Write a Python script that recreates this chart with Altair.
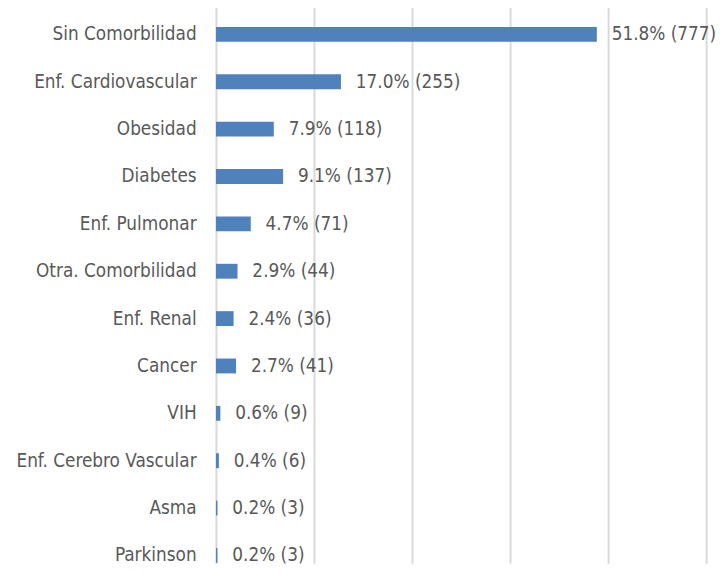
import altair as alt
import pandas as pd

categories = ["Sin Comorbilidad", "Enf. Cardiovascular", "Obesidad", "Diabetes",
              "Enf. Pulmonar", "Otra. Comorbilidad", "Enf. Renal", "Cancer", "VIH",
              "Enf. Cerebro Vascular", "Asma", "Parkinson"]
counts = [777, 255, 118, 137, 71, 44, 36, 41, 9, 6, 3, 3]
percents = ["51.8%", "17.0%", "7.9%", "9.1%", "4.7%", "2.9%", "2.4%", "2.7%",
            "0.6%", "0.4%", "0.2%", "0.2%"]

df = pd.DataFrame({"cat": categories, "n": counts, "pct": percents})
df["label"] = df["pct"] + " (" + df["n"].astype(str) + ")"

FONT = "DejaVu Sans Condensed, Liberation Sans Narrow, sans-serif"

y_enc = alt.Y("cat:N", sort=categories, title=None,
              scale=alt.Scale(paddingInner=0, paddingOuter=0, range=[0, 574]),
              axis=alt.Axis(ticks=False, domain=False, labelPadding=20,
                            labelFont=FONT, labelFontSize=19, labelColor="#595959",
                            labelLimit=300))
x_enc = alt.X("n:Q", title=None,
              scale=alt.Scale(domain=[0, 1000], nice=False),
              axis=alt.Axis(values=[0, 200, 400, 600, 800, 1000], labels=False,
                            ticks=False, domain=False, grid=True,
                            gridColor="#d9d9d9", gridWidth=2))

bars = alt.Chart(df).mark_bar(size=15, color="#4f81bd").encode(x=x_enc, y=y_enc)
text = alt.Chart(df).mark_text(align="left", baseline="middle", dx=15, dy=0,
                               font=FONT, fontSize=19, color="#595959").encode(
    x="n:Q", y=alt.Y("cat:N", sort=categories), text="label:N")

chart = (bars + text).properties(
    width=495, height=558,
    autosize=alt.AutoSizeParams(type="none"),
    padding={"left": 210, "top": 0, "right": 12, "bottom": 0},
).configure_view(stroke=None)

chart.save("out.html", embed_options={"renderer": "svg", "actions": False})
